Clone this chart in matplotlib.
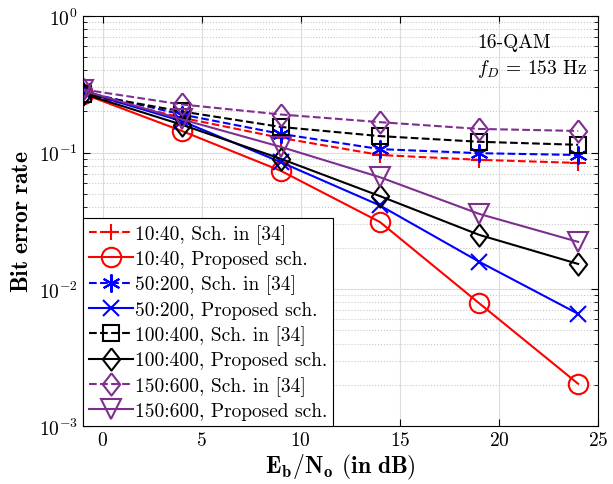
import matplotlib
matplotlib.use("Agg")
import matplotlib.pyplot as plt
import numpy as np
from matplotlib.ticker import LogLocator, NullFormatter

# Eb/No points (dB)
snr_db = [-1, 4, 9, 14, 19, 24]

# BER
ber_10_40_ref = [0.27, 0.18, 0.128, 0.096, 0.0885, 0.084]
ber_10_40_prop = [0.27, 0.144, 0.0735, 0.031, 0.0079, 0.00203]
ber_50_200_ref = [0.28, 0.19, 0.137, 0.106, 0.099, 0.096]
ber_50_200_prop = [0.28, 0.17, 0.085, 0.041, 0.0159, 0.0066]
ber_100_400_ref = [0.27, 0.2, 0.154, 0.132, 0.12, 0.114]
ber_100_400_prop = [0.27, 0.16, 0.09, 0.048, 0.025, 0.0153]
ber_150_600_ref = [0.29, 0.225, 0.19, 0.167, 0.149, 0.144]
ber_150_600_prop = [0.285, 0.175, 0.11, 0.066, 0.0356, 0.0222]

labels = ["10:40, Sch. in [34]", "10:40, Proposed sch.",
          "50:200, Sch. in [34]", "50:200, Proposed sch.",
          "100:400, Sch. in [34]", "100:400, Proposed sch.",
          "150:600, Sch. in [34]", "150:600, Proposed sch."]

plt.rcParams["font.family"] = "serif"
plt.rcParams["font.serif"] = ["cmr10", "DejaVu Serif"]
plt.rcParams["mathtext.fontset"] = "cm"
plt.rcParams["axes.formatter.use_mathtext"] = True

purple = (0.494, 0.184, 0.556)
# tall MATLAB-like diamond
diamond = [(0, 1), (0.78, 0), (0, -1), (-0.78, 0), (0, 1)]

series = [
    (ber_10_40_ref, "red", "--", "+", 12),
    (ber_10_40_prop, "red", "-", "o", 14),
    (ber_50_200_ref, "blue", "--", (6, 2, 0), 13),
    (ber_50_200_prop, "blue", "-", "x", 12),
    (ber_100_400_ref, "black", "--", "s", 11),
    (ber_100_400_prop, "black", "-", diamond, 16),
    (ber_150_600_ref, purple, "--", diamond, 16),
    (ber_150_600_prop, purple, "-", "v", 15),
]

fig = plt.figure(figsize=(6.13, 4.85), dpi=100)
ax = fig.add_axes([0.135, 0.12, 0.8405, 0.845])

for (y, c, ls, mk, ms), lab in zip(series, labels):
    ax.semilogy(snr_db, y, color=c, linestyle=ls, marker=mk, markersize=ms,
                markerfacecolor="none", markeredgewidth=1.5, linewidth=1.5,
                label=lab)

ax.set_xlim(-1, 25)
ax.set_ylim(1e-3, 1)
ax.set_xticks([0, 5, 10, 15, 20, 25])
ax.yaxis.set_major_locator(LogLocator(base=10, numticks=10))
ax.yaxis.set_minor_locator(LogLocator(base=10, subs=np.arange(2, 10), numticks=20))
ax.yaxis.set_minor_formatter(NullFormatter())

ax.grid(True, which="major", color="#dcdcdc", linewidth=0.8)
ax.grid(True, which="minor", axis="y", color="#c8c8c8", linestyle=":", linewidth=0.8)
ax.tick_params(which="both", direction="in", top=True, right=True, labelsize=14)
ax.tick_params(which="major", length=5)
ax.tick_params(which="minor", length=3)
for s in ax.spines.values():
    s.set_linewidth(0.8)

ax.set_xlabel(r"$\mathbf{E_b/N_o}$ $\mathbf{(in\ dB)}$", fontsize=17, labelpad=2)
ax.set_ylabel(r"$\mathbf{Bit\ error\ rate}$", fontsize=17, labelpad=4)

ax.text(0.765, 0.925, "16-QAM", transform=ax.transAxes, fontsize=14)
ax.text(0.765, 0.862, r"$f_D$ = 153 Hz", transform=ax.transAxes, fontsize=14)

leg = ax.legend(loc="lower left", fontsize=14, borderaxespad=0, fancybox=False,
                edgecolor="black", framealpha=1, labelspacing=0.33,
                handlelength=2.3, handletextpad=0.1, borderpad=0.3)
leg.get_frame().set_linewidth(0.8)

fig.savefig("out.png", dpi=100)
